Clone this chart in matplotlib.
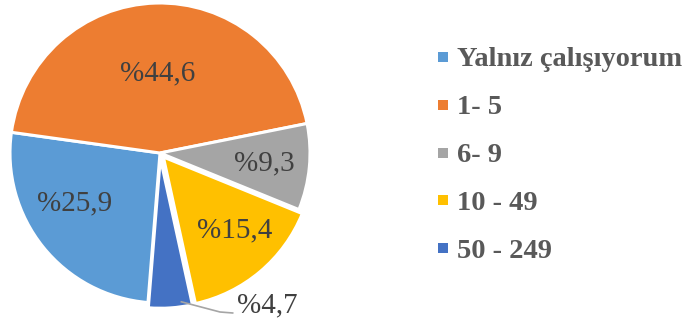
import numpy as np
import matplotlib
matplotlib.use("Agg")
import matplotlib.pyplot as plt
from matplotlib.patches import Rectangle

categories = ["Yalnız çalışıyorum", "1- 5", "6- 9", "10 - 49", "50 - 249"]
shares = [25.9, 44.6, 9.3, 15.4, 4.7]
value_labels = ["%25,9", "%44,6", "%9,3", "%15,4", "%4,7"]
colors = ["#5B9BD5", "#ED7D31", "#A5A5A5", "#FFC000", "#4472C4"]

W, H = 693, 324
fig = plt.figure(figsize=(W / 100, H / 100), dpi=100)
fig.patch.set_facecolor("white")

# pie area: centre (160, 153) px, radius 150 px
cx, cy, r = 160, 153, 150
ax = fig.add_axes([(cx - r) / W, (H - cy - r) / H, 2 * r / W, 2 * r / H])

explode = [0.0, 0.0, 0.0, 0.035, 0.035]
wedges, _ = ax.pie(shares, colors=colors, startangle=265.4, counterclock=False,
                   explode=explode, radius=1.0,
                   wedgeprops=dict(edgecolor="white", linewidth=2.2))
ax.set_xlim(-1, 1)
ax.set_ylim(-1, 1)
ax.set_aspect("equal")
ax.axis("off")
for w in wedges:
    w.set_clip_on(False)

serif = ["Liberation Serif", "DejaVu Serif"]
# (radius, angular shift in degrees) of each inside label
label_place = [(0.66, -8), (0.53, 0), (0.70, 0), (0.68, 4), None]
for w, txt, place, ex in zip(wedges, value_labels, label_place, explode):
    mid_deg = (w.theta1 + w.theta2) / 2
    if place is not None:
        lr, shift = place
        a = np.deg2rad(mid_deg + shift)
        ax.text((lr + ex) * np.cos(a), (lr + ex) * np.sin(a), txt,
                ha="center", va="center", fontsize=21, color="#404040",
                family=serif)
    else:
        a = np.deg2rad(mid_deg + 4)
        sx, sy = 1.0 * np.cos(a), 1.0 * np.sin(a)
        ax.plot([sx, 0.40, 0.49], [sy, -1.06, -1.067], color="#A5A5A5",
                lw=1.2, clip_on=False, solid_capstyle="butt")
        ax.text(0.51, -1.015, txt, ha="left", va="center", fontsize=21,
                color="#404040", family=serif)

# legend
y0, dy = 57, 47.8
for i, (cat, col) in enumerate(zip(categories, colors)):
    y = y0 + i * dy
    fig.add_artist(Rectangle((438 / W, (H - y - 5) / H), 10 / W, 10 / H,
                             transform=fig.transFigure, facecolor=col,
                             edgecolor="none"))
    fig.text(457 / W, (H - y) / H, cat, ha="left", va="center_baseline",
             fontsize=20.5, fontweight="bold", color="#595959", family=serif)

fig.savefig("out.png", dpi=100, facecolor="white")
